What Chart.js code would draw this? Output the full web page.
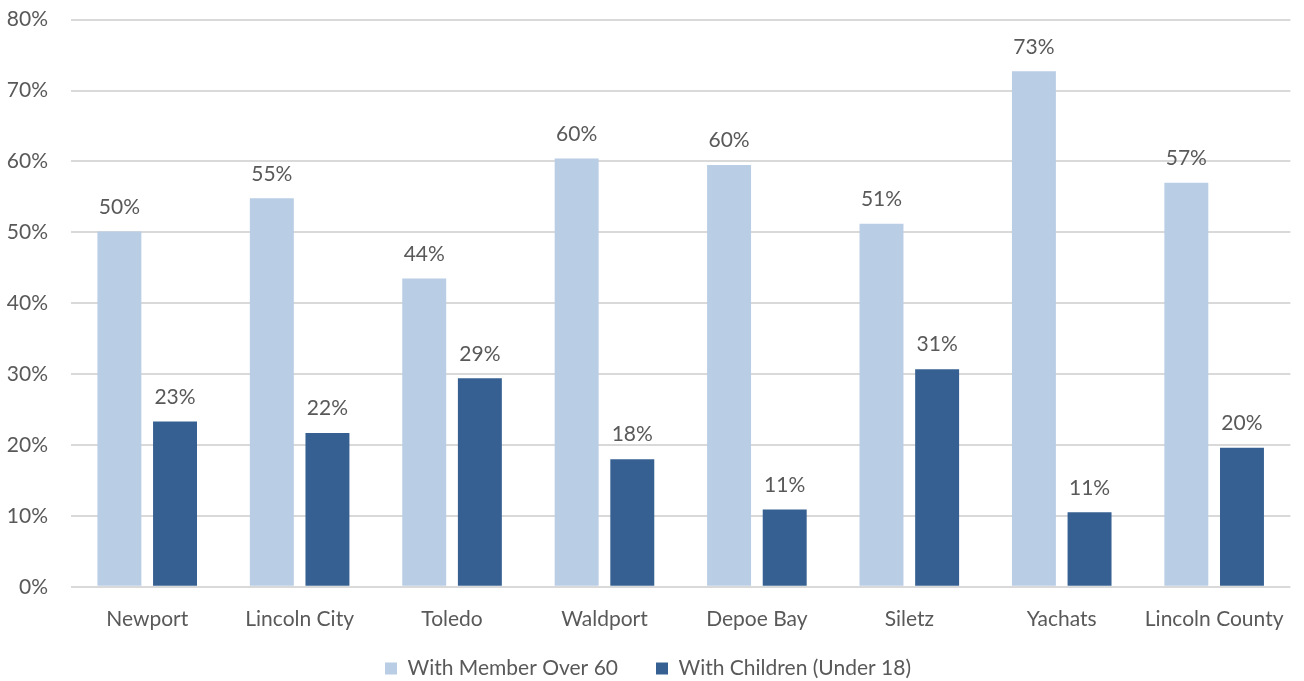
<!DOCTYPE html>
<html>
<head>
<meta charset="utf-8">
<script src="https://cdn.jsdelivr.net/npm/chart.js@4"></script>
<style>
  html, body { margin: 0; padding: 0; background: #fff; }
  #wrap { width: 1304px; height: 681px; position: relative; }
</style>
</head>
<body>
<div id="wrap"><canvas id="householdChart"></canvas></div>
<script>
// data
var cities = ["Newport", "Lincoln City", "Toledo", "Waldport", "Depoe Bay", "Siletz", "Yachats", "Lincoln County"];
var over60 = [50.1, 54.8, 43.5, 60.4, 59.5, 51.2, 72.7, 57.0];
var children = [23.3, 21.7, 29.4, 18.0, 10.9, 30.7, 10.5, 19.6];
var seriesNames = ["With Member Over 60", "With Children (Under 18)"];
var yTicks = [0, 10, 20, 30, 40, 50, 60, 70, 80];

var textColor = "#595959";
var fontFamily = "Lato, 'Open Sans', sans-serif";
var fontSize = 21;

// draws the percent above each bar
var barLabels = {
  id: "barLabels",
  afterDatasetsDraw: function(chart) {
    var ctx = chart.ctx;
    ctx.save();
    ctx.fillStyle = textColor;
    ctx.font = fontSize + "px " + fontFamily;
    ctx.textAlign = "center";
    ctx.textBaseline = "bottom";
    chart.data.datasets.forEach(function(ds, i) {
      var meta = chart.getDatasetMeta(i);
      meta.data.forEach(function(bar, j) {
        ctx.fillText(Math.round(ds.data[j]) + "%", bar.x, bar.y - 14);
      });
    });
    ctx.restore();
  }
};

// tighten the legend box so it sits closer to the axis labels
var legendTight = {
  id: "legendTight",
  beforeInit: function(chart) {
    var fit = chart.legend.fit;
    chart.legend.fit = function() {
      fit.bind(chart.legend)();
      this.height -= 40;
    };
  },
  afterLayout: function(chart) {
    var lg = chart.legend;
    lg.top -= 32;
    lg.bottom = chart.height;
    lg.height = lg.bottom - lg.top;
  }
};

new Chart("householdChart", {
  type: "bar",
  data: {
    labels: cities,
    datasets: [{
      label: seriesNames[0],
      data: over60,
      backgroundColor: "#b9cde5",
      categoryPercentage: 0.73,
      barPercentage: 0.79
    }, {
      label: seriesNames[1],
      data: children,
      backgroundColor: "#366092",
      categoryPercentage: 0.73,
      barPercentage: 0.79
    }]
  },
  options: {
    responsive: true,
    maintainAspectRatio: false,
    animation: false,
    layout: { padding: { top: 0, right: 8, left: 0, bottom: 0 } },
    plugins: {
      tooltip: { enabled: false },
      legend: {
        position: "bottom",
        labels: {
          color: textColor,
          font: { family: fontFamily, size: fontSize },
          boxWidth: 12,
          boxHeight: 12,
          padding: 38
        }
      }
    },
    scales: {
      x: {
        grid: { display: false, drawTicks: false },
        border: { display: false },
        ticks: {
          color: textColor,
          font: { family: fontFamily, size: fontSize },
          padding: 20,
          maxRotation: 0
        }
      },
      y: {
        min: 0,
        max: 80,
        afterBuildTicks: function(axis) {
          axis.ticks = yTicks.map(function(v) { return { value: v }; });
        },
        afterFit: function(axis) { axis.width = 71; },
        grid: { color: "#d9d9d9", lineWidth: 2, drawTicks: true, tickLength: 16, tickColor: "rgba(0,0,0,0)" },
        border: { display: false },
        ticks: {
          color: textColor,
          font: { family: fontFamily, size: fontSize },
          padding: 7,
          callback: function(v) { return v + "%"; }
        }
      }
    }
  },
  plugins: [barLabels, legendTight]
});
</script>
</body>
</html>
